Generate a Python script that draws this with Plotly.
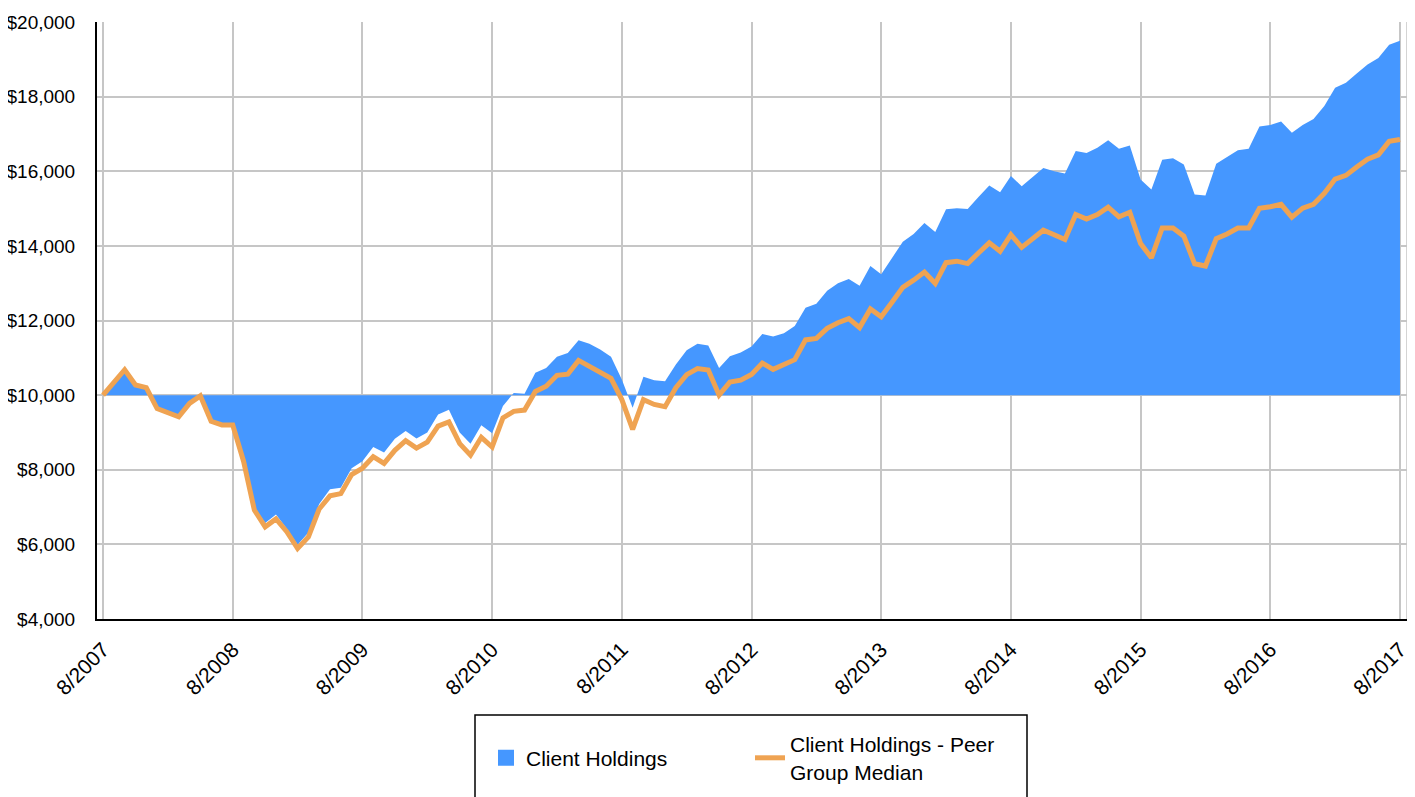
import plotly.graph_objects as go

# monthly values, 8/2007 .. 8/2017 (121 months)
client_holdings = [
    10000, 10350, 10700, 10290, 10220, 9670, 9570, 9450, 9810, 10000,
    9330, 9230, 9230, 8280, 6990, 6570, 6800, 6420, 5990, 6320,
    7080, 7480, 7520, 8040, 8230, 8610, 8460, 8830, 9040, 8840,
    9000, 9480, 9610, 9000, 8700, 9190, 8980, 9710, 10060, 10040,
    10600, 10730, 11030, 11130, 11470, 11380, 11220, 11030, 10420, 9660,
    10490, 10400, 10375, 10820, 11200, 11380, 11330, 10730, 11040, 11140,
    11300, 11640, 11570, 11660, 11850, 12340, 12450, 12800, 13000, 13110,
    12930, 13460, 13240, 13680, 14110, 14320, 14610, 14370, 14980, 15010,
    14990, 15310, 15620, 15440, 15870, 15600, 15850, 16090, 16000, 15940,
    16540, 16490, 16630, 16830, 16600, 16690, 15780, 15510, 16310, 16350,
    16180, 15380, 15350, 16200, 16380, 16560, 16600, 17200, 17240, 17330,
    17030, 17240, 17400, 17750, 18240, 18370, 18620, 18860, 19035, 19390,
    19500,
]

peer_median = [
    10000, 10350, 10680, 10270, 10200, 9640, 9540, 9420, 9780, 9980,
    9300, 9200, 9200, 8230, 6920, 6470, 6680, 6340, 5890, 6200,
    6950, 7300, 7360, 7870, 8040, 8350, 8170, 8520, 8780, 8580,
    8740, 9170, 9280, 8700, 8390, 8870, 8610, 9390, 9565, 9600,
    10100, 10240, 10530, 10560, 10930, 10780, 10600, 10450, 9880, 9080,
    9880, 9750, 9690, 10200, 10550, 10710, 10670, 10000, 10350, 10400,
    10555, 10860, 10690, 10820, 10950, 11480, 11520, 11790, 11940, 12050,
    11810, 12310, 12100, 12490, 12890, 13080, 13300, 12990, 13550, 13590,
    13525, 13810, 14080, 13855, 14300, 13960, 14210, 14420, 14300, 14170,
    14840, 14720, 14840, 15040, 14780, 14900, 14060, 13680, 14480, 14480,
    14260, 13520, 13460, 14195, 14320, 14480, 14480, 15010, 15050, 15115,
    14770, 15010, 15115, 15410, 15790, 15890, 16115, 16320, 16440, 16800,
    16850,
]

tick_labels = ["8/2007", "8/2008", "8/2009", "8/2010", "8/2011", "8/2012",
               "8/2013", "8/2014", "8/2015", "8/2016", "8/2017"]
start_value = 10000

months = list(range(len(client_holdings)))
tick_pos = months[::12]

azul = "#4597FF"
laranja = "#EFA352"
cinza = "#C6C6C6"
fonte = "Liberation Sans, Arial, sans-serif"

fig = go.Figure()

# baseline at the starting value, the area fills to it
fig.add_trace(go.Scatter(
    x=months, y=[start_value] * len(months),
    mode="lines", line=dict(width=0, color=azul),
    showlegend=False, hoverinfo="skip"
))
fig.add_trace(go.Scatter(
    x=months, y=client_holdings,
    mode="lines", line=dict(width=0, color=azul),
    fill="tonexty", fillcolor=azul,
    name="Client Holdings", showlegend=False
))
# square swatch for the legend
fig.add_trace(go.Scatter(
    x=[None], y=[None], mode="markers",
    marker=dict(symbol="square", size=16, color=azul),
    name="Client Holdings", legend="legend"
))
fig.add_trace(go.Scatter(
    x=months, y=peer_median,
    mode="lines", line=dict(width=5, color=laranja),
    name="Client Holdings - Peer<br>Group Median", legend="legend2"
))

fig.update_xaxes(
    range=[-0.56, 120.65], automargin=False,
    tickvals=tick_pos, ticktext=tick_labels, tickangle=-45,
    showgrid=True, gridcolor=cinza, gridwidth=1.5,
    showline=True, linecolor="black", linewidth=2,
    zeroline=False, ticks="", ticklabelstandoff=8,
    tickfont=dict(family=fonte, size=21, color="black")
)
fig.update_yaxes(
    range=[4000, 20000], dtick=2000, automargin=False,
    tickprefix="$", tickformat=",.0f",
    showgrid=True, gridcolor=cinza, gridwidth=1.5,
    showline=True, linecolor="black", linewidth=2,
    zeroline=False, ticks="", ticklabelstandoff=16,
    tickfont=dict(family=fonte, size=19, color="black")
)

# right border and the legend frame
fig.add_shape(type="line", xref="paper", yref="paper",
              x0=1, x1=1, y0=0, y1=1, line=dict(color=cinza, width=1.5))
fig.add_shape(type="rect", xref="paper", yref="paper",
              x0=(475 - 97) / 1310, x1=(1027 - 97) / 1310,
              y0=(619 - 715) / 597, y1=-0.36,
              line=dict(color="black", width=1.5))

legenda_y = (619 - 758) / 597

# the page body adds 8px, margins are trimmed to compensate
fig.update_layout(
    width=1415, height=797,
    margin=dict(l=89, r=16, t=14, b=186, autoexpand=False),
    plot_bgcolor="white", paper_bgcolor="white",
    font=dict(family=fonte, size=21, color="black"),
    showlegend=True,
    legend=dict(
        orientation="h", x=(486 - 97) / 1310, xanchor="left",
        y=legenda_y, yanchor="middle",
        bgcolor="rgba(0,0,0,0)", borderwidth=0,
        font=dict(family=fonte, size=21, color="black")
    ),
    legend2=dict(
        orientation="h", x=(750 - 97) / 1310, xanchor="left",
        y=legenda_y, yanchor="middle",
        bgcolor="rgba(0,0,0,0)", borderwidth=0,
        font=dict(family=fonte, size=21, color="black")
    )
)

fig.write_html("out.html")
